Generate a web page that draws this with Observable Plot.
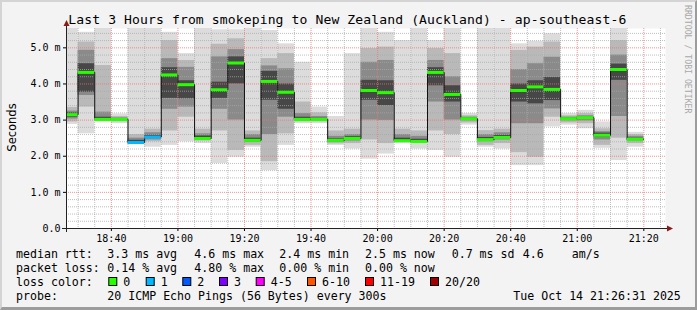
<!DOCTYPE html>
<html><head><meta charset="utf-8">
<script src="https://cdn.jsdelivr.net/npm/d3@7"></script>
<script src="https://cdn.jsdelivr.net/npm/@observablehq/plot@0.6"></script>
<style>
html,body{margin:0;padding:0;background:#f3f3f3;}
#wrap{position:relative;width:697px;height:310px;background:#f3f3f3;overflow:hidden;}
#frame{position:absolute;left:0;top:0;width:697px;height:310px;box-sizing:border-box;border-style:solid;border-width:2px 2px 3px 2px;border-color:#d4d4d4 #9c9c9c #9c9c9c #d4d4d4;pointer-events:none;}
</style></head><body>
<div id="wrap"><div id="chart"></div><div id="frame"></div></div>
<script>
// ---- data (milliseconds) ----
const stepEnd = ["18:30","18:35","18:40","18:45","18:50","18:55","19:00","19:05","19:10","19:15",
  "19:20","19:25","19:30","19:35","19:40","19:45","19:50","19:55","20:00","20:05",
  "20:10","20:15","20:20","20:25","20:30","20:35","20:40","20:45","20:50","20:55",
  "21:00","21:05","21:10","21:15","21:20"];
const median = [3.15,4.32,3.02,3.02,2.38,2.53,4.25,3.98,2.49,3.84,
  4.58,2.44,4.07,3.77,3.02,3.02,2.44,2.49,3.82,3.76,
  2.43,2.41,4.32,3.71,3.04,2.46,2.52,3.82,3.92,3.85,
  3.04,3.07,2.58,4.40,2.47];
const lossCount = [0,0,0,0,1,1,0,0,0,0, 0,0,0,0,0,0,0,0,0,0, 0,0,0,0,0,0,0,0,0,0, 0,0,0,0,0];
// smoke bands, outermost (lightest) to innermost (darkest): [low, high]
const smoke0 = [[2.88,5.6],[2.62,5.43],[2.95,5.6],[2.9,3.17],[2.33,5.6],[2.25,5.6],[2.3,5.43],[2.4,4.84],[2.35,5.6],[1.8,5.5],
  [1.97,5.5],[2.25,5.6],[1.6,5.48],[2.3,5.11],[2.9,4.6],[2.9,3.36],[2.3,3.1],[2.2,4.84],[1.92,5.6],[2.06,5.43],
  [2.35,5.2],[2.2,5.6],[2.16,5.2],[1.97,5.6],[2.86,3.18],[2.25,5.6],[2.2,5.6],[1.74,5.11],[1.74,5.18],[2.81,5.39],
  [2.86,3.18],[2.76,3.27],[2.22,2.95],[1.88,5.6],[2.25,2.66]];
const smoke1 = [[2.95,3.35],[3.36,5.16],[3.0,4.51],[2.95,3.1],[2.35,2.6],[2.4,2.75],[2.7,5.2],[3.08,4.65],[2.42,2.75],[2.7,5.1],
  [2.16,5.25],[2.3,2.7],[1.85,4.7],[2.62,4.84],[2.95,3.5],[2.95,3.2],[2.34,2.7],[2.35,2.75],[2.45,4.98],[2.35,5.02],
  [2.38,2.75],[2.35,2.7],[2.7,4.98],[2.6,4.84],[2.92,3.12],[2.3,2.71],[2.35,2.75],[2.1,4.93],[1.97,5.02],[3.08,5.16],
  [2.92,3.12],[2.9,3.18],[2.3,2.76],[2.5,5.2],[2.35,2.6]];
const smoke2 = [[3.03,3.25],[3.68,4.93],[2.98,3.22],[2.98,3.06],[2.36,2.5],[2.45,2.65],[3.3,4.7],[3.36,4.46],[2.45,2.62],[3.3,4.75],
  [3.0,4.95],[2.38,2.6],[2.6,4.5],[3.08,4.42],[2.97,3.18],[2.98,3.1],[2.38,2.55],[2.42,2.6],[3.0,4.6],[2.99,4.65],
  [2.4,2.6],[2.38,2.55],[3.5,4.65],[3.0,4.2],[2.98,3.08],[2.4,2.6],[2.45,2.65],[2.9,4.4],[2.9,4.56],[3.31,4.74],
  [2.98,3.08],[2.98,3.12],[2.45,2.68],[3.1,4.8],[2.42,2.55]];
const smoke3 = [[3.08,3.2],[3.77,4.56],[3.0,3.08],[3.0,3.04],[2.37,2.44],[2.5,2.58],[3.6,4.45],[3.59,4.09],[2.47,2.56],[3.6,4.05],
  [4.0,4.75],[2.4,2.5],[3.55,4.35],[3.3,4.0],[3.0,3.08],[3.0,3.05],[2.4,2.48],[2.46,2.54],[3.55,4.1],[3.4,4.09],
  [2.41,2.5],[2.39,2.47],[3.95,4.45],[3.5,3.95],[3.0,3.06],[2.43,2.52],[2.48,2.58],[3.5,4.0],[3.45,4.09],[3.54,4.18],
  [3.0,3.06],[3.02,3.1],[2.52,2.64],[4.1,4.55],[2.44,2.5]];
const xTickLabels = ["18:40","19:00","19:20","19:40","20:00","20:20","20:40","21:00","21:20"];
const yTicks = [0,1,2,3,4,5];
const lossBins = ["0","1","2","3","4-5","6-10","11-19","20/20"];
const lossColors = ["#26ff00","#00b8ff","#0059ff","#7e00ff","#ff00ff","#ff5500","#ff0000","#a10000"];
const title = "Last 3 Hours from smokeping to New Zealand (Auckland) - ap-southeast-6";
const rowLabels = ["median rtt:","packet loss:","loss color:","probe:"];
const rttStats = ["3.3 ms avg","4.6 ms max","2.4 ms min","2.5 ms now","0.7 ms sd","4.6","am/s"];
const lossStats = ["0.14 % avg","4.80 % max","0.00 % min","0.00 % now"];
const probeText = "20 ICMP Echo Pings (56 Bytes) every 300s";
const stampText = "Tue Oct 14 21:26:31 2025";
const windowStart = "18:26:31", windowEnd = "21:26:31";

// ---- helpers ----
const toMin = s => { const p = s.split(":").map(Number); return p[0]*60 + p[1] + (p[2]||0)/60; };
const fmtMin = m => `${Math.floor(m/60)}:${String(Math.round(m%60)).padStart(2,"0")}`;
const lossIndex = n => n <= 3 ? n : n <= 5 ? 4 : n <= 10 ? 5 : n <= 19 ? 6 : 7;

const rows = stepEnd.map((e,i) => ({
  end: toMin(e), start: toMin(e) - 5, median: median[i], loss: lossCount[i],
  s0: smoke0[i], s1: smoke1[i], s2: smoke2[i], s3: smoke3[i]
}));
const lineData = rows.map(r => ({t: r.start, v: r.median}))
  .concat([{t: rows[rows.length-1].end, v: rows[rows.length-1].median}]);

const x0 = toMin(windowStart), x1 = toMin(windowEnd);
const yTop = 5.535;
const majorX = xTickLabels.map(toMin);
const minorX = d3.range(Math.ceil(x0/5)*5, x1, 5).filter(m => m % 20 !== 0);
const minorY = d3.range(1, Math.floor(yTop*5)+1).map(k => k/5).filter(v => Math.abs(v - Math.round(v)) > 1e-6);
const majorY = yTicks.filter(v => v > 0);

const smokeFill = ["#dcdcdc","#b9b9b9","#8a8a8a","#474747"];
const smokeMarks = ["s0","s1","s2","s3"].map((k,j) => Plot.rect(rows, {
  x1: "start", x2: "end", y1: d => d[k][0], y2: d => d[k][1], fill: smokeFill[j], inset: 0, clip: true
}));

const chart = Plot.plot({
  width: 697, height: 310,
  marginLeft: 66, marginRight: 32, marginTop: 28, marginBottom: 82,
  x: {domain: [x0, x1]},
  y: {domain: [0, yTop]},
  style: {background: "transparent", fontFamily: "DejaVu Sans Mono", fontSize: "10px", color: "#000", overflow: "visible"},
  marks: [
    Plot.frame({fill: "#ffffff", stroke: "none"}),
    ...smokeMarks,
    Plot.ruleY(minorY, {stroke: "#a8a8a8", strokeOpacity: 0.75, strokeDasharray: "1,1"}),
    Plot.ruleX(minorX, {stroke: "#a8a8a8", strokeOpacity: 0.75, strokeDasharray: "1,1"}),
    Plot.ruleY(majorY, {stroke: "#f07070", strokeOpacity: 0.75, strokeDasharray: "1,1"}),
    Plot.ruleX(majorX, {stroke: "#f07070", strokeOpacity: 0.75, strokeDasharray: "1,1"}),
    Plot.line(lineData, {x: "t", y: "v", curve: "step-after", stroke: "#111", strokeWidth: 1, clip: true}),
    Plot.ruleY(rows, {y: "median", x1: "start", x2: "end", stroke: d => lossColors[lossIndex(d.loss)], strokeWidth: 3, clip: true}),
    Plot.axisY({ticks: yTicks, tickSize: 3, tickPadding: 3, label: null,
      tickFormat: d => d === 0 ? "0.0" : d.toFixed(1) + " m"}),
    Plot.axisX({ticks: majorX, tickSize: 3, tickPadding: 3, label: null, tickFormat: fmtMin})
  ]
});
document.getElementById("chart").appendChild(chart);

// ---- decorations: axis lines, arrows, texts ----
const svg = d3.select(chart);
const xs = chart.scale("x"), ys = chart.scale("y");
const X0 = xs.apply(x0), X1 = xs.apply(x1), Y0 = ys.apply(0), YT = ys.apply(yTop);
const g = svg.append("g");
g.append("line").attr("x1", X0 - 4).attr("x2", X1 + 2).attr("y1", Y0 + 0.5).attr("y2", Y0 + 0.5)
  .attr("stroke", "#222").attr("stroke-width", 1);
g.append("line").attr("x1", X0 + 0.5).attr("x2", X0 + 0.5).attr("y1", Y0 + 4).attr("y2", YT - 2)
  .attr("stroke", "#222").attr("stroke-width", 1);
g.append("path").attr("d", `M${X1+2},${Y0-2.5}L${X1+8},${Y0+0.5}L${X1+2},${Y0+3.5}Z`).attr("fill", "#8b1a1a");
g.append("path").attr("d", `M${X0-2.5},${YT-2}L${X0+0.5},${YT-8}L${X0+3.5},${YT-2}Z`).attr("fill", "#8b1a1a");

const mono = "DejaVu Sans Mono";
const t = svg.append("g").attr("fill", "#000").attr("text-anchor", "start");
t.append("text").attr("x", 68.3).attr("y", 24).attr("text-anchor", "start")
  .attr("font-family", mono).attr("font-size", 13.06)
  .attr("textLength", 558).attr("lengthAdjust", "spacing").text(title);
t.append("text").attr("transform", "translate(15.5,127.5) rotate(-90)").attr("text-anchor", "middle")
  .attr("font-family", "DejaVu Sans").attr("font-size", 11.5).text("Seconds");
t.append("text").attr("transform", "translate(685,5) rotate(90)").attr("text-anchor", "start").attr("font-family", mono)
  .attr("font-size", 8.2).attr("fill", "#a8a8a8").text("RRDTOOL / TOBI OETIKER");

const rowY = [258, 272, 286, 300];
const fs = 11.6;
const put = (x, y, s) => t.append("text").attr("x", x).attr("y", y).attr("text-anchor", "start")
  .attr("font-family", mono).attr("font-size", fs).style("white-space", "pre").text(s);
rowLabels.forEach((s, i) => put(16, rowY[i], s));
const statX = [107.3, 194.3, 279.3, 365, 451.7, 522.7, 571.7];
rttStats.forEach((s, i) => put(statX[i], rowY[0], s));
lossStats.forEach((s, i) => put(statX[i], rowY[1], s));
const boxX = [108.3, 145.7, 182.3, 219, 255.7, 307, 365, 430];
lossBins.forEach((s, i) => {
  t.append("rect").attr("x", boxX[i] + 0.5).attr("y", 277.5).attr("width", 8).attr("height", 8)
    .attr("fill", lossColors[i]).attr("stroke", "#000").attr("stroke-width", 1);
  put(boxX[i] + 15, rowY[2], s);
});
put(107.3, rowY[3], probeText);
put(513.3, rowY[3], stampText);
</script>
</body></html>
